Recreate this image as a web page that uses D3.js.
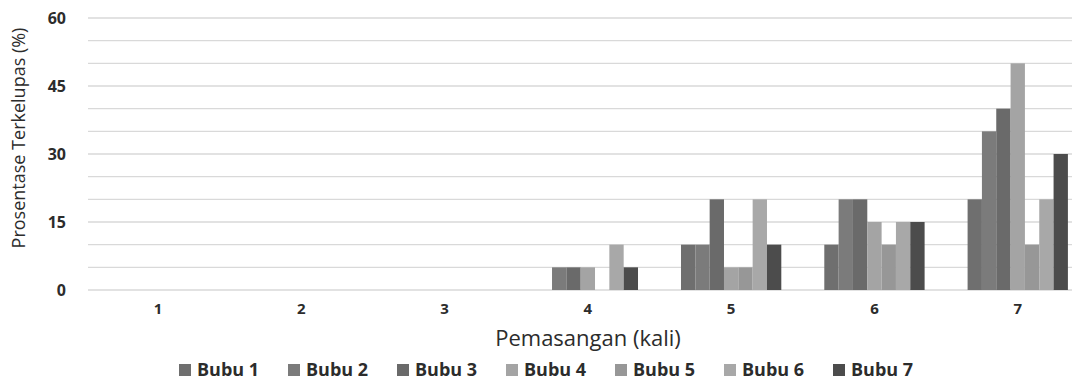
<!DOCTYPE html>
<html>
<head>
<meta charset="utf-8">
<script src="https://cdn.jsdelivr.net/npm/d3@7"></script>
<style>
  html, body { margin: 0; padding: 0; background: #ffffff; }
  svg { display: block; }
</style>
</head>
<body>
<svg id="chart" width="1072" height="381"></svg>
<script>
const categories = ["1", "2", "3", "4", "5", "6", "7"];
const seriesNames = ["Bubu 1", "Bubu 2", "Bubu 3", "Bubu 4", "Bubu 5", "Bubu 6", "Bubu 7"];
const bubu1 = [0, 0, 0, 0, 10, 10, 20];
const bubu2 = [0, 0, 0, 5, 10, 20, 35];
const bubu3 = [0, 0, 0, 5, 20, 20, 40];
const bubu4 = [0, 0, 0, 5, 5, 15, 50];
const bubu5 = [0, 0, 0, 0, 5, 10, 10];
const bubu6 = [0, 0, 0, 10, 20, 15, 20];
const bubu7 = [0, 0, 0, 5, 10, 15, 30];
const yTickLabels = [0, 15, 30, 45, 60];
const seriesColors = ["#6f6f6f", "#7b7b7b", "#6a6a6a", "#a4a4a4", "#979797", "#a8a8a8", "#4c4c4c"];

const seriesValues = [bubu1, bubu2, bubu3, bubu4, bubu5, bubu6, bubu7];

const svg = d3.select("#chart");
const textColor = "#2c2c2c";
const fontFam = "'Open Sans', 'Liberation Sans', sans-serif";

const plotLeft = 86.3, plotRight = 1089.4, plotTop = 18, plotBottom = 290;

const x0 = d3.scaleBand().domain(categories).range([plotLeft, plotRight]).padding(0);
const x1 = d3.scaleBand().domain(seriesNames).range([0, x0.bandwidth()]).paddingInner(0).paddingOuter(1.5);
const y = d3.scaleLinear().domain([0, 60]).range([plotBottom, plotTop]);

// gridlines every 5
const gridVals = d3.range(0, 61, 5);
svg.append("g").selectAll("line").data(gridVals).join("line")
  .attr("x1", 88).attr("x2", 1072)
  .attr("y1", d => y(d)).attr("y2", d => y(d))
  .attr("stroke", "#d9d9d9").attr("stroke-width", 1.3);

// y tick labels
const yAxis = d3.axisLeft(y).tickValues(yTickLabels).tickSize(0).tickPadding(0);
const gy = svg.append("g").attr("transform", "translate(66,0)").call(yAxis);
gy.select(".domain").remove();
gy.selectAll("text")
  .attr("font-family", fontFam).attr("font-size", 16).attr("font-weight", "bold")
  .attr("fill", textColor).attr("dy", "0.35em");

// bars
const groups = svg.append("g").selectAll("g").data(categories).join("g")
  .attr("transform", d => `translate(${x0(d)},0)`);
groups.selectAll("rect")
  .data((c, ci) => seriesNames.map((s, si) => ({ s, si, v: seriesValues[si][ci] })))
  .join("rect")
  .attr("x", d => x1(d.s))
  .attr("width", x1.bandwidth())
  .attr("y", d => y(d.v))
  .attr("height", d => y(0) - y(d.v))
  .attr("fill", d => seriesColors[d.si]);

// x tick labels
const xAxis = d3.axisBottom(x0).tickSize(0).tickPadding(0);
const gx = svg.append("g").attr("transform", `translate(0,${plotBottom})`).call(xAxis);
gx.select(".domain").remove();
gx.selectAll("text")
  .attr("font-family", fontFam).attr("font-size", 15).attr("font-weight", "bold")
  .attr("fill", textColor).attr("y", 24).attr("dy", "0");

// x title
svg.append("text")
  .attr("x", 588).attr("y", 346)
  .attr("text-anchor", "middle")
  .attr("font-family", fontFam).attr("font-size", 22)
  .attr("fill", textColor)
  .text("Pemasangan (kali)");

// y title
svg.append("text")
  .attr("transform", "translate(25,138) rotate(-90)")
  .attr("text-anchor", "middle")
  .attr("font-family", fontFam).attr("font-size", 18)
  .attr("fill", textColor)
  .text("Prosentase Terkelupas (%)");

// legend
const legend = svg.append("g").selectAll("g").data(seriesNames).join("g")
  .attr("transform", (d, i) => `translate(${179 + i * 109},370)`);
legend.append("rect")
  .attr("x", 0).attr("y", -6).attr("width", 12).attr("height", 12)
  .attr("fill", (d, i) => seriesColors[i]);
legend.append("text")
  .attr("x", 18).attr("y", 0).attr("dy", "0.35em")
  .attr("font-family", fontFam).attr("font-size", 18).attr("font-weight", "bold")
  .attr("fill", textColor)
  .text(d => d);
</script>
</body>
</html>
